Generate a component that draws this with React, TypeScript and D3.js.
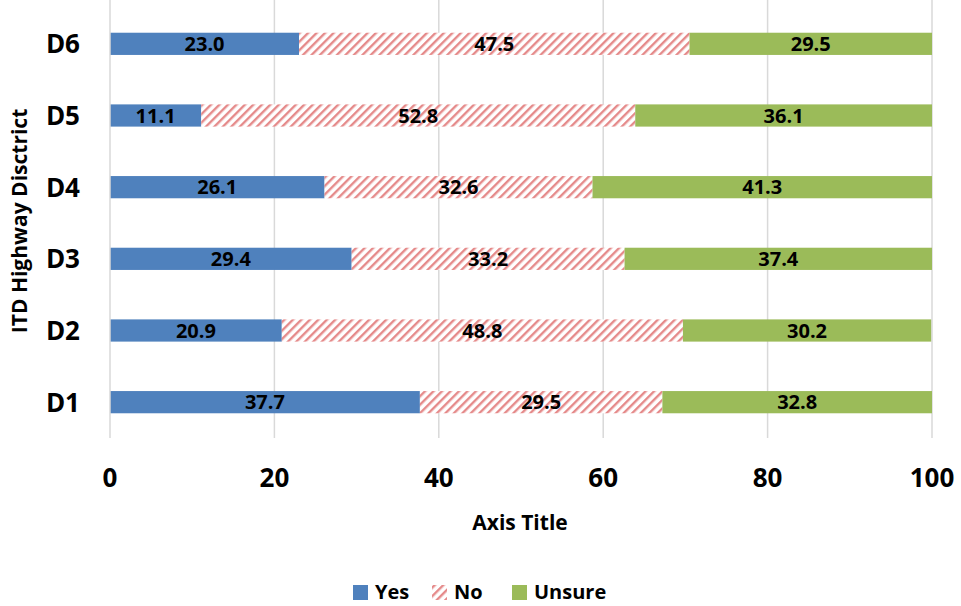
import * as d3 from "d3";
import { useEffect, useRef } from "react";

const districts = ["D6", "D5", "D4", "D3", "D2", "D1"];
const yes = [23.0, 11.1, 26.1, 29.4, 20.9, 37.7];
const no = [47.5, 52.8, 32.6, 33.2, 48.8, 29.5];
const unsure = [29.5, 36.1, 41.3, 37.4, 30.2, 32.8];
const seriesNames = ["Yes", "No", "Unsure"];
const xTicks = [0, 20, 40, 60, 80, 100];

const width = 961;
const height = 606;
const margin = { top: 8, left: 110, right: 29, bottom: 168 };
const font = "'Open Sans', sans-serif";

export default function App() {
  const ref = useRef<SVGSVGElement>(null);

  useEffect(() => {
    const svg = d3.select(ref.current);
    svg.selectAll("*").remove();

    const innerW = width - margin.left - margin.right;
    const innerH = height - margin.top - margin.bottom;

    const x = d3.scaleLinear().domain([0, 100]).range([margin.left, margin.left + innerW]);
    const y = d3
      .scaleBand()
      .domain(districts)
      .range([margin.top, margin.top + innerH])
      .paddingInner(0.69)
      .paddingOuter(0.345);

    const defs = svg.append("defs");
    const pat = defs
      .append("pattern")
      .attr("id", "hatch")
      .attr("patternUnits", "userSpaceOnUse")
      .attr("width", 6)
      .attr("height", 6)
      .attr("patternTransform", "rotate(45)");
    pat.append("rect").attr("width", 6).attr("height", 6).attr("fill", "white");
    pat.append("rect").attr("x", 0).attr("width", 2.4).attr("height", 6).attr("fill", "#e58a8a");

    // gridlines
    svg
      .append("g")
      .selectAll("line")
      .data(xTicks.slice(1))
      .join("line")
      .attr("x1", (d) => x(d))
      .attr("x2", (d) => x(d))
      .attr("y1", margin.top - 8)
      .attr("y2", margin.top + innerH)
      .attr("stroke", "#d9d9d9")
      .attr("stroke-width", 1.5);

    const stackData = districts.map((d, i) => ({ d, Yes: yes[i], No: no[i], Unsure: unsure[i] }));
    const stacked = d3.stack<any>().keys(seriesNames)(stackData);
    const fills = ["#4f81bd", "url(#hatch)", "#9bbb59"];

    stacked.forEach((layer, li) => {
      const g = svg.append("g");
      g.selectAll("rect")
        .data(layer)
        .join("rect")
        .attr("x", (s) => x(s[0]))
        .attr("width", (s) => x(s[1]) - x(s[0]))
        .attr("y", (s) => y(s.data.d)!)
        .attr("height", y.bandwidth())
        .attr("fill", fills[li]);
      g.selectAll("text")
        .data(layer)
        .join("text")
        .attr("x", (s) => (x(s[0]) + x(s[1])) / 2)
        .attr("y", (s) => y(s.data.d)! + y.bandwidth() / 2)
        .attr("dy", "0.36em")
        .attr("text-anchor", "middle")
        .attr("font-family", font)
        .attr("font-weight", "bold")
        .attr("font-size", 20)
        .attr("fill", "#000")
        .text((s) => (s[1] - s[0]).toFixed(1));
    });

    // y axis line
    svg
      .append("line")
      .attr("x1", x(0))
      .attr("x2", x(0))
      .attr("y1", margin.top - 8)
      .attr("y2", margin.top + innerH)
      .attr("stroke", "#d9d9d9")
      .attr("stroke-width", 1.5);

    // category labels
    svg
      .append("g")
      .selectAll("text")
      .data(districts)
      .join("text")
      .attr("x", x(0) - 30)
      .attr("y", (d) => y(d)! + y.bandwidth() / 2)
      .attr("dy", "0.36em")
      .attr("text-anchor", "end")
      .attr("font-family", font)
      .attr("font-weight", "bold")
      .attr("font-size", 26)
      .text((d) => d);

    // x tick labels
    svg
      .append("g")
      .selectAll("text")
      .data(xTicks)
      .join("text")
      .attr("x", (d) => x(d))
      .attr("y", 478)
      .attr("dy", "0.36em")
      .attr("text-anchor", "middle")
      .attr("font-family", font)
      .attr("font-weight", "bold")
      .attr("font-size", 26)
      .text((d) => d);

    svg
      .append("text")
      .attr("x", x(50) - 1)
      .attr("y", 522)
      .attr("dy", "0.36em")
      .attr("text-anchor", "middle")
      .attr("font-family", font)
      .attr("font-weight", "bold")
      .attr("font-size", 21)
      .text("Axis Title");

    svg
      .append("text")
      .attr("transform", `translate(19,${margin.top + innerH / 2 - 2}) rotate(-90)`)
      .attr("dy", "0.36em")
      .attr("text-anchor", "middle")
      .attr("font-family", font)
      .attr("font-weight", "bold")
      .attr("font-size", 21)
      .text("ITD Highway Disctrict");

    // legend
    const legendX = [353, 432, 512];
    const lg = svg.append("g");
    seriesNames.forEach((name, i) => {
      const lx = legendX[i];
      lg.append("rect")
        .attr("x", lx)
        .attr("y", 585)
        .attr("width", 15)
        .attr("height", 15)
        .attr("fill", fills[i]);
      lg.append("text")
        .attr("x", lx + 22)
        .attr("y", 592)
        .attr("dy", "0.36em")
        .attr("font-family", font)
        .attr("font-weight", "bold")
        .attr("font-size", 20)
        .text(name);
    });
  }, []);

  return (
    <svg
      ref={ref}
      width={width}
      height={height}
      style={{ position: "absolute", left: 0, top: 0, background: "#fff" }}
    />
  );
}
